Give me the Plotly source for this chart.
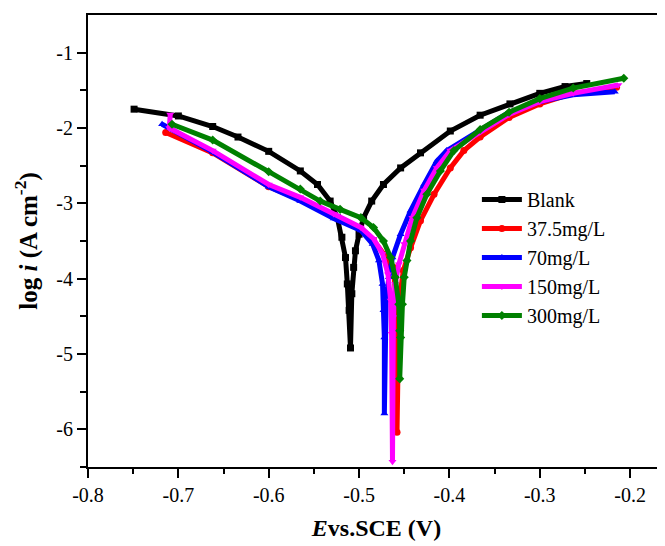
import plotly.graph_objects as go

names = ["Blank", "37.5mg/L", "70mg/L", "150mg/L", "300mg/L"]
colors = ["#000000", "#ff0000", "#0000ff", "#ff00ff", "#008000"]
symbols = ["square", "circle", "triangle-up", "triangle-down", "diamond"]

blank_E = [-0.749, -0.700, -0.662, -0.634, -0.600, -0.565, -0.546, -0.532, -0.524, -0.519, -0.515,
           -0.513, -0.511, -0.5095, -0.508, -0.506, -0.504, -0.500, -0.495, -0.486, -0.473, -0.454,
           -0.432, -0.399, -0.366, -0.333, -0.300, -0.272, -0.248]
blank_logi = [-1.75, -1.84, -1.98, -2.12, -2.31, -2.57, -2.75, -2.97, -3.19, -3.45, -3.72,
              -4.07, -4.42, -4.92, -4.20, -3.85, -3.63, -3.41, -3.19, -2.97, -2.75, -2.53,
              -2.33, -2.04, -1.83, -1.68, -1.54, -1.45, -1.41]

red_E = [-0.714, -0.662, -0.600, -0.565, -0.528, -0.498, -0.484, -0.472, -0.465, -0.462, -0.459,
         -0.458, -0.458, -0.456, -0.454, -0.451, -0.443, -0.432, -0.417, -0.399, -0.384, -0.366,
         -0.334, -0.300, -0.263, -0.215]
red_logi = [-2.06, -2.33, -2.78, -2.95, -3.16, -3.34, -3.49, -3.68, -3.82, -3.85, -4.29,
            -4.95, -6.04, -4.51, -4.16, -3.89, -3.59, -3.23, -2.88, -2.53, -2.30, -2.12,
            -1.86, -1.68, -1.54, -1.46]

blue_E = [-0.718, -0.662, -0.600, -0.565, -0.528, -0.498, -0.485, -0.478, -0.474, -0.473, -0.472,
          -0.472, -0.470, -0.467, -0.463, -0.454, -0.443, -0.428, -0.414, -0.403, -0.366, -0.334,
          -0.300, -0.263, -0.217]
blue_logi = [-1.95, -2.32, -2.78, -2.97, -3.20, -3.36, -3.54, -3.76, -4.07, -4.42, -4.78,
             -5.79, -4.29, -3.98, -3.72, -3.41, -3.10, -2.75, -2.44, -2.30, -2.02, -1.79,
             -1.65, -1.56, -1.52]

mag_E = [-0.709, -0.710, -0.662, -0.600, -0.565, -0.528, -0.498, -0.484, -0.474, -0.468, -0.465,
         -0.464, -0.463, -0.462, -0.460, -0.456, -0.450, -0.441, -0.428, -0.414, -0.399, -0.366,
         -0.334, -0.300, -0.263, -0.213]
mag_logi = [-1.82, -2.00, -2.30, -2.75, -2.92, -3.14, -3.32, -3.47, -3.67, -3.94, -4.29,
            -4.73, -6.43, -4.51, -4.07, -3.81, -3.54, -3.19, -2.83, -2.53, -2.30, -2.05,
            -1.82, -1.65, -1.54, -1.43]

green_E = [-0.707, -0.662, -0.600, -0.565, -0.543, -0.521, -0.498, -0.484, -0.473, -0.465, -0.460,
           -0.456, -0.455, -0.455, -0.454, -0.452, -0.450, -0.447, -0.443, -0.436, -0.425, -0.410,
           -0.395, -0.366, -0.334, -0.300, -0.263, -0.207]
green_logi = [-1.95, -2.16, -2.58, -2.81, -2.97, -3.08, -3.19, -3.32, -3.50, -3.72, -3.98,
              -4.34, -4.69, -5.33, -4.78, -4.34, -3.98, -3.76, -3.50, -3.19, -2.88, -2.57,
              -2.30, -2.02, -1.79, -1.61, -1.47, -1.34]

x_tickvals = [-0.8, -0.7, -0.6, -0.5, -0.4, -0.3, -0.2]
x_ticktext = ["-0.8", "-0.7", "-0.6", "-0.5", "-0.4", "-0.3", "-0.2"]
y_tickvals = [-6, -5, -4, -3, -2, -1]
y_ticktext = ["-6", "-5", "-4", "-3", "-2", "-1"]

series_E = [blank_E, red_E, blue_E, mag_E, green_E]
series_logi = [blank_logi, red_logi, blue_logi, mag_logi, green_logi]

fig = go.Figure()
for i in range(5):
    fig.add_trace(go.Scatter(
        x=series_E[i], y=series_logi[i], name=names[i], mode="lines+markers",
        line=dict(color=colors[i], width=5),
        marker=dict(symbol=symbols[i], size=7, color=colors[i]),
    ))

font = "Liberation Serif, Times New Roman, serif"
fig.update_layout(
    width=665, height=546,
    margin=dict(l=80, r=8, t=7, b=87, autoexpand=False),
    paper_bgcolor="white", plot_bgcolor="white",
    font=dict(family=font, size=20, color="black"),
    showlegend=True,
    legend=dict(x=0.674, y=0.635, xanchor="left", yanchor="top",
                bgcolor="rgba(0,0,0,0)", font=dict(family=font, size=20),
                itemwidth=40),
)
fig.update_xaxes(
    range=[-0.8, -0.1614], tickvals=x_tickvals, ticktext=x_ticktext, automargin=False,
    showgrid=False, zeroline=False, showline=True, linecolor="black", linewidth=2,
    mirror=True, ticks="outside", ticklen=9, tickwidth=2, tickcolor="black",
    minor=dict(ticks="outside", ticklen=5, tickwidth=2, tickcolor="black", dtick=0.05, showgrid=False),
    tickfont=dict(family=font, size=20),
    title=dict(text="<b><i>E</i>vs.SCE (V)</b>", font=dict(family=font, size=24), standoff=14),
)
fig.update_yaxes(
    range=[-6.5, -0.5], tickvals=y_tickvals, ticktext=y_ticktext, automargin=False,
    showgrid=False, zeroline=False, showline=True, linecolor="black", linewidth=2,
    ticks="outside", ticklen=9, tickwidth=2, tickcolor="black",
    minor=dict(ticks="outside", ticklen=6, tickwidth=2, tickcolor="black",
               tickvals=[-6.5, -5.5, -4.5, -3.5, -2.5, -1.5], showgrid=False),
    tickfont=dict(family=font, size=20),
    title=dict(text="<b>log <i>i</i> (A cm<sup>-2</sup>)</b>", font=dict(family=font, size=25), standoff=12),
)
fig.write_html("out.html")
